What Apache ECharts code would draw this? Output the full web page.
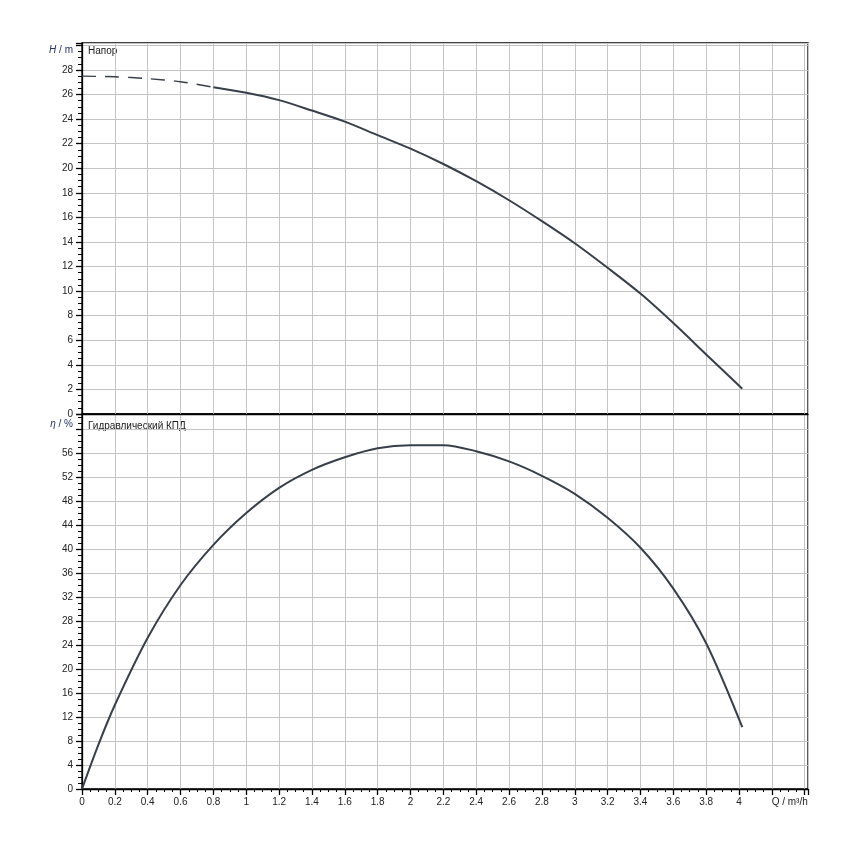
<!DOCTYPE html>
<html>
<head>
<meta charset="utf-8">
<script src="https://cdn.jsdelivr.net/npm/echarts@6/dist/echarts.min.js"></script>
<style>html,body{margin:0;padding:0;background:#fff}#c{width:850px;height:850px}</style>
</head>
<body>
<div id="c"></div>
<script>
// Flow rate Q (m³/h)
var qHeadDashed = [0, 0.2, 0.4, 0.6, 0.8];
var headDashed = [27.5, 27.45, 27.3, 27.05, 26.6];
var qHead = [0.8, 1.0, 1.2, 1.4, 1.6, 1.8, 2.0, 2.2, 2.4, 2.6, 2.8, 3.0, 3.2, 3.4, 3.6, 3.8, 4.02];
var head = [26.6, 26.15, 25.55, 24.7, 23.8, 22.7, 21.6, 20.35, 18.95, 17.4, 15.7, 13.9, 11.9, 9.8, 7.4, 4.85, 2.05];
var qEff = [0, 0.1, 0.2, 0.4, 0.6, 0.8, 1.0, 1.2, 1.4, 1.6, 1.8, 2.0, 2.2, 2.4, 2.6, 2.8, 3.0, 3.2, 3.4, 3.6, 3.8, 4.02];
var efficiency = [0, 7.4, 14, 25.2, 34, 40.7, 46, 50.2, 53.2, 55.3, 56.8, 57.3, 57.3, 56.3, 54.6, 52.2, 49.2, 45.2, 40.2, 33.4, 24.3, 10.3];
var xTickLabels = ['0', '0.2', '0.4', '0.6', '0.8', '1', '1.2', '1.4', '1.6', '1.8', '2', '2.2', '2.4', '2.6', '2.8', '3', '3.2', '3.4', '3.6', '3.8', '4', '', 'Q / m³/h'];
var headTitle = 'Напор';
var effTitle = 'Гидравлический КПД';

function pairs(xs, ys) { return xs.map(function (x, i) { return [x, ys[i]]; }); }

var FONT = 'Liberation Sans, Arial, sans-serif';
var gridLine = { show: true, lineStyle: { color: '#c4c4c4', width: 1 } };
var lineColor = '#363f4b';

function xAxisCfg(idx, showLabels) {
  return {
    type: 'value', gridIndex: idx, min: 0, max: 4.42, interval: 0.2,
    axisLine: { show: true, onZero: false, lineStyle: { color: '#000', width: 1.3 } },
    axisTick: { show: showLabels, length: 6, lineStyle: { color: '#000', width: 1.3 } },
    minorTick: { show: showLabels, splitNumber: 4, length: 3, lineStyle: { color: '#000', width: 1 } },
    axisLabel: {
      show: showLabels, color: '#222', fontFamily: FONT, fontSize: 10, margin: 8,
      showMaxLabel: false,
      formatter: function (v) {
        var k = Math.round(v / 0.2);
        if (Math.abs(v - k * 0.2) > 1e-6) return '';
        var t = xTickLabels[k] || '';
        return k === xTickLabels.length - 1 ? '{q|' + t + '}' : t;
      },
      rich: { q: { color: '#222', fontFamily: FONT, fontSize: 10, padding: [0, 30, 0, 0] } }
    },
    splitLine: gridLine
  };
}

function yAxisCfg(idx, max, interval, topVal, topRich) {
  return {
    type: 'value', gridIndex: idx, min: 0, max: max, interval: interval,
    axisLine: { show: true, lineStyle: { color: '#000', width: 1.3 } },
    axisTick: { show: true, length: 6, lineStyle: { color: '#000', width: 1.3 } },
    minorTick: { show: true, splitNumber: 4, length: 4, lineStyle: { color: '#000', width: 1 } },
    axisLabel: {
      color: '#222', fontFamily: FONT, fontSize: 10, margin: 9, showMaxLabel: false,
      formatter: function (v) {
        if (Math.abs(v - topVal) < 1e-6) return topRich;
        if (Math.abs(v / interval - Math.round(v / interval)) > 1e-6) return '';
        return String(v);
      },
      rich: {
        hi: { fontStyle: 'italic', color: '#1f3366', fontFamily: FONT, fontSize: 10, padding: [10, 0, 0, 0] },
        hu: { color: '#1f3366', fontFamily: FONT, fontSize: 10, padding: [10, 0, 0, 0] },
        ei: { fontStyle: 'italic', color: '#1f3366', fontFamily: FONT, fontSize: 10, padding: [0, 0, 10, 0] },
        eu: { color: '#1f3366', fontFamily: FONT, fontSize: 10, padding: [0, 0, 10, 0] }
      }
    },
    splitLine: gridLine
  };
}

var chart = echarts.init(document.getElementById('c'), null, { renderer: 'canvas' });
chart.setOption({
  backgroundColor: '#fff',
  animation: false,
  grid: [
    { left: 82, right: 42, top: 43, height: 371, show: true, borderColor: '#000', borderWidth: 1.3, backgroundColor: 'transparent' },
    { left: 82, right: 42, top: 414, height: 375, show: true, borderColor: '#000', borderWidth: 1.3, backgroundColor: 'transparent' }
  ],
  xAxis: [xAxisCfg(0, false), xAxisCfg(1, true)],
  yAxis: [
    yAxisCfg(0, 30.2, 2, 30, '{hi|H}{hu| / m}'),
    yAxisCfg(1, 62.5, 4, 60, '{ei|η}{eu| / %}')
  ],
  graphic: [
    { type: 'text', left: 88, top: 46, style: { text: headTitle, fill: '#1a1a1a', font: '10px ' + FONT } },
    { type: 'text', left: 88, top: 421, style: { text: effTitle, fill: '#1a1a1a', font: '10px ' + FONT } }
  ],
  series: [
    {
      type: 'line', xAxisIndex: 0, yAxisIndex: 0, data: pairs(qHeadDashed, headDashed),
      smooth: 0.3, showSymbol: false, lineStyle: { color: lineColor, width: 1.4, type: [14, 9] }
    },
    {
      type: 'line', xAxisIndex: 0, yAxisIndex: 0, data: pairs(qHead, head),
      smooth: 0.3, showSymbol: false, lineStyle: { color: lineColor, width: 2 }
    },
    {
      type: 'line', xAxisIndex: 1, yAxisIndex: 1, data: pairs(qEff, efficiency),
      smooth: 0.3, showSymbol: false, lineStyle: { color: lineColor, width: 2 }
    }
  ]
});
</script>
</body>
</html>
